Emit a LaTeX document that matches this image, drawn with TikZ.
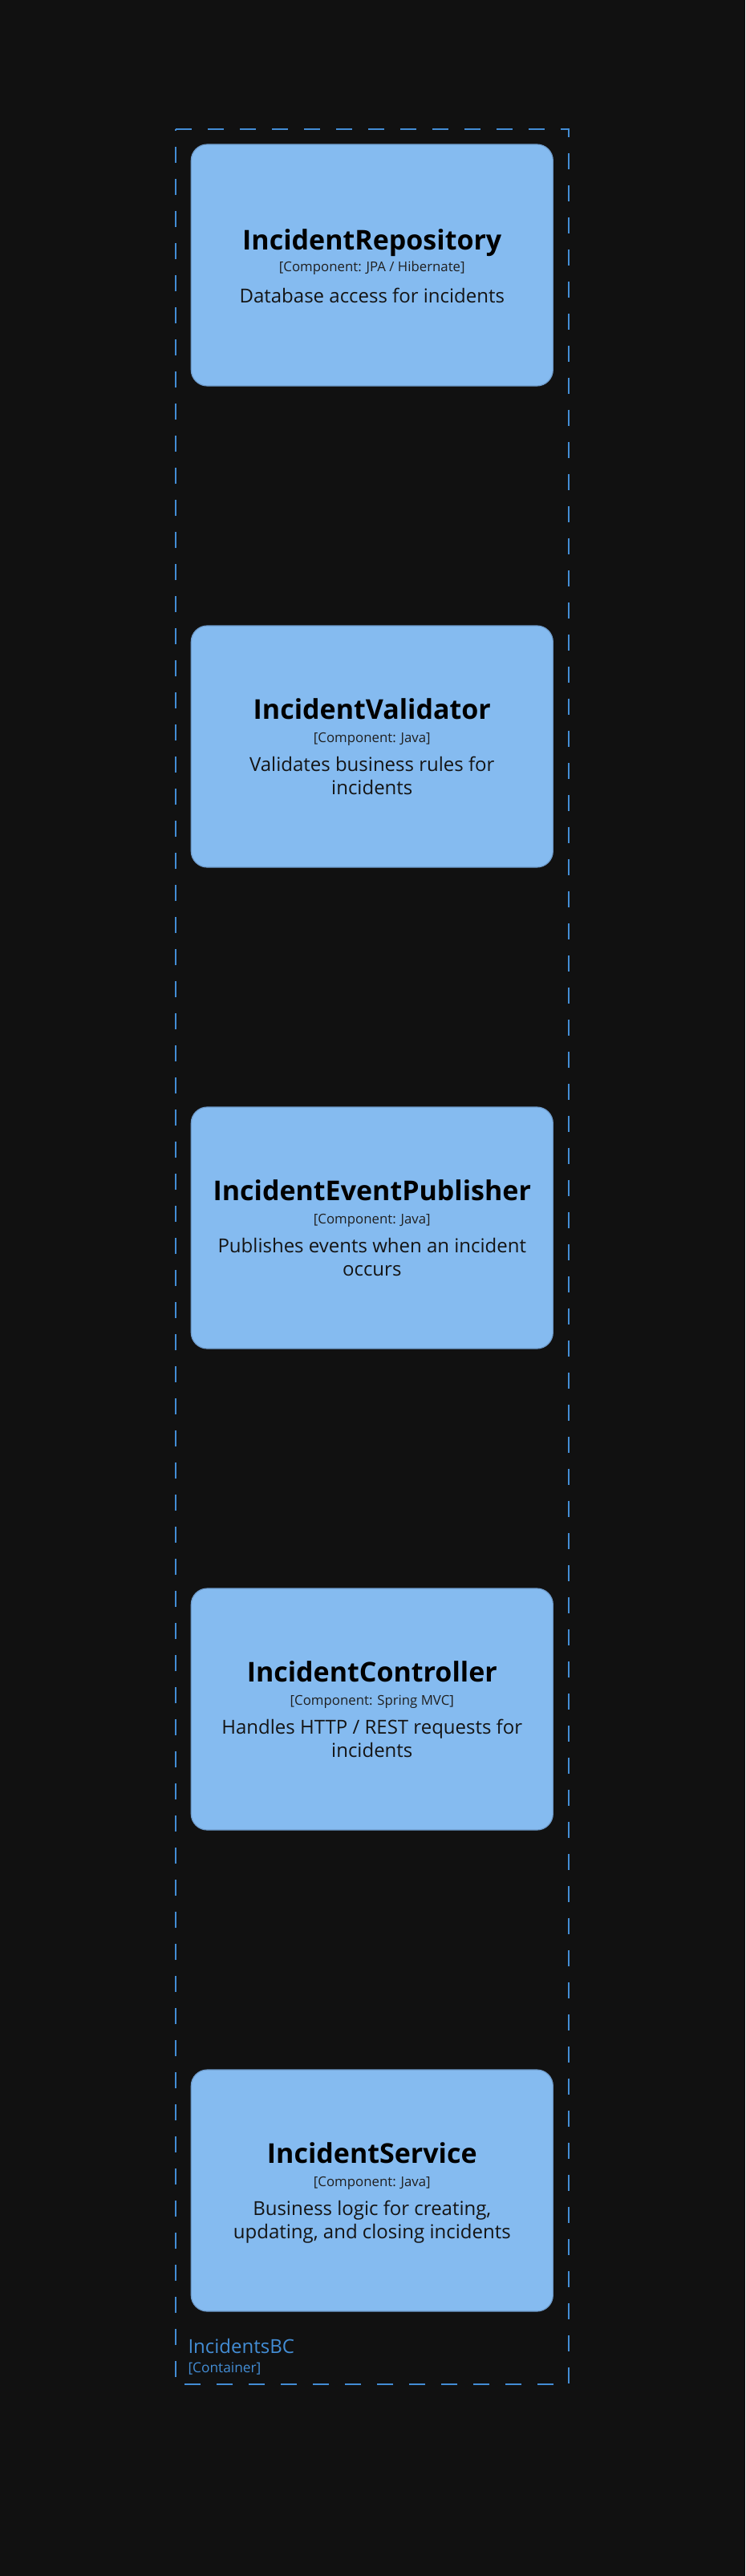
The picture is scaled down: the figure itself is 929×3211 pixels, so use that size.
\documentclass[tikz,border=0pt]{standalone}
\usepackage{fontspec}
\setmainfont{Open Sans}
\definecolor{bg}{HTML}{111111}
\definecolor{compfill}{HTML}{85BBF0}
\definecolor{compline}{HTML}{6E9BCB}
\definecolor{contblue}{HTML}{438DD5}
\tikzset{
  comp/.style={fill=compfill, draw=compline, line width=1.2pt, rounded corners=20pt},
  ttl/.style={anchor=base, inner sep=0pt, font=\fontsize{34}{40}\selectfont\bfseries, text=black},
  meta/.style={anchor=base, inner sep=0pt, font=\fontsize{16.8}{20}\selectfont, text=black!88},
  desc/.style={anchor=base, inner sep=0pt, font=\fontsize{24}{28}\selectfont, text=black!92},
  contline/.style={draw=contblue, line width=2pt, dash pattern=on 20pt off 20pt},
  contlbl/.style={anchor=base west, inner sep=0pt, text=contblue}
}
\begin{document}
\begin{tikzpicture}[x=1pt,y=-1pt]
\fill[bg] (0,0) rectangle (929,3211);
\useasboundingbox (0,0) rectangle (929,3211);
% container boundary
\draw[contline] (219,160.7) -- (709,160.7) -- (709,2972) -- (219,2972) -- cycle;
\node[contlbl, font=\fontsize{24}{28}\selectfont] (cname) at (234.3,2933.3) {IncidentsBC};
\node[contlbl, font=\fontsize{17.3}{21}\selectfont] (ctype) at (234.3,2957.3) {[Container]};
% box 1
\draw[comp] (238.3,180) rectangle (689.3,481);
\node[ttl] (t1) at (463.8,311.9) {IncidentRepository};
\node[meta] (m1) at (463.8,338.3) {[Component: JPA / Hibernate]};
\node[desc] (d1) at (463.8,377.3) {Database access for incidents};
% box 2
\draw[comp] (238.3,780) rectangle (689.3,1081);
\node[ttl] (t2) at (463.8,896.7) {IncidentValidator};
\node[meta] (m2) at (463.8,925) {[Component: Java]};
\node[desc] (d2a) at (463.8,961.7) {Validates business rules for};
\node[desc] (d2b) at (463.8,990.7) {incidents};
% box 3
\draw[comp] (238.3,1380) rectangle (689.3,1681);
\node[ttl] (t3) at (463.8,1496.7) {IncidentEventPublisher};
\node[meta] (m3) at (463.8,1525) {[Component: Java]};
\node[desc] (d3a) at (463.8,1561.7) {Publishes events when an incident};
\node[desc] (d3b) at (463.8,1590.7) {occurs};
% box 4
\draw[comp] (238.3,1980) rectangle (689.3,2281);
\node[ttl] (t4) at (463.8,2096.7) {IncidentController};
\node[meta] (m4) at (463.8,2125) {[Component: Spring MVC]};
\node[desc] (d4a) at (463.8,2161.7) {Handles HTTP / REST requests for};
\node[desc] (d4b) at (463.8,2190.7) {incidents};
% box 5
\draw[comp] (238.3,2580) rectangle (689.3,2881);
\node[ttl] (t5) at (463.8,2696.7) {IncidentService};
\node[meta] (m5) at (463.8,2725) {[Component: Java]};
\node[desc] (d5a) at (463.8,2761.7) {Business logic for creating,};
\node[desc] (d5b) at (463.8,2790.7) {updating, and closing incidents};
\end{tikzpicture}
\end{document}
